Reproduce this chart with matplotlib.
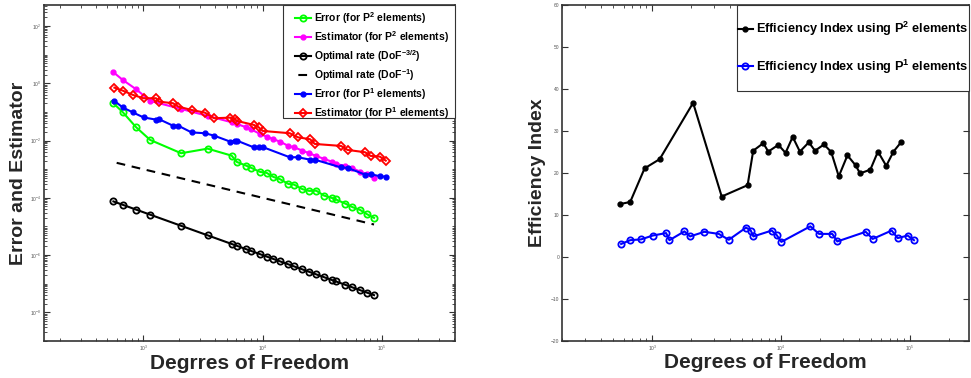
'''
 Error / estimator convergence and efficiency index for P1 and P2 elements
'''

import matplotlib
matplotlib.use('Agg')
import matplotlib.pyplot as plt
from matplotlib.patches import Rectangle
from matplotlib.ticker import (FixedLocator, LogLocator, LogFormatterSciNotation,
                               MultipleLocator, NullFormatter)

plt.rcParams['font.family'] = ['Liberation Sans', 'DejaVu Sans']
plt.rcParams['mathtext.fontset'] = 'custom'
plt.rcParams['mathtext.rm'] = 'Liberation Sans:bold'
plt.rcParams['mathtext.bf'] = 'Liberation Sans:bold'
plt.rcParams['mathtext.it'] = 'Liberation Sans:bold'

# degrees of freedom
dof_p2 = [564, 676, 874, 1145, 2080, 3466, 5503, 6083, 7278, 7966, 9526, 10839,
          12312, 13996, 16430, 18345, 21530, 24490, 28040, 32730, 37950, 40980,
          49300, 56440, 65470, 74520, 85700]
dof_p1 = [575, 675, 822, 1009, 1284, 1362, 1780, 1970, 2543, 3289, 3931, 5355,
          5822, 6100, 8470, 9260, 10054, 16870, 19710, 24980, 27320, 45350,
          51400, 72110, 80290, 95940, 107400]

# left plot
error_p2 = [0.2004, 0.0973, 0.0291, 0.0105, 0.0036, 0.00521, 0.00297, 0.00179,
            0.00133, 0.00113, 8.02e-4, 7.4e-4, 5.36e-4, 4.46e-4, 3.05e-4, 2.89e-4,
            2.01e-4, 1.74e-4, 1.78e-4, 1.19e-4, 9.92e-5, 8.8e-5, 6.27e-5, 4.74e-5,
            3.78e-5, 2.70e-5, 1.99e-5]
estimator_p2 = [2.42, 1.30, 0.617, 0.241, 0.127, 0.0722, 0.0435, 0.038, 0.0291,
                0.0248, 0.0170, 0.0137, 0.0111, 0.00916, 0.00648, 0.00584,
                0.00444, 0.0036, 0.0029, 0.00228, 0.00183, 0.00152, 0.0013,
                0.00108, 8.2e-4, 6.67e-4, 4.83e-4]
rate_32 = [7.47e-5, 5.69e-5, 3.87e-5, 2.58e-5, 1.054e-5, 4.90e-6, 2.45e-6, 2.11e-6,
           1.61e-6, 1.41e-6, 1.076e-6, 8.86e-7, 7.32e-7, 6.04e-7, 4.75e-7, 4.03e-7,
           3.17e-7, 2.61e-7, 2.13e-7, 1.69e-7, 1.35e-7, 1.21e-7, 9.14e-8, 7.46e-8,
           5.97e-8, 4.92e-8, 3.99e-8]
rate_1 = [1.77e-3, 1.48e-3, 1.14e-3, 8.73e-4, 4.81e-4, 2.89e-4, 1.82e-4, 1.64e-4,
          1.37e-4, 1.26e-4, 1.05e-4, 9.23e-5, 8.12e-5, 7.14e-5, 6.09e-5, 5.45e-5,
          4.64e-5, 4.08e-5, 3.57e-5, 3.06e-5, 2.64e-5, 2.44e-5, 2.03e-5, 1.77e-5,
          1.53e-5, 1.34e-5, 1.17e-5]
error_p1 = [0.241, 0.143, 0.0957, 0.064, 0.0537, 0.0554, 0.0329, 0.0329, 0.0192,
            0.0180, 0.0148, 0.00916, 0.00992, 0.00992, 0.00574, 0.00574, 0.00589,
            0.00261, 0.00261, 0.00215, 0.00215, 0.00115, 0.00111, 6.46e-4,
            6.67e-4, 5.67e-4, 5.45e-4]
estimator_p1 = [0.702, 0.552, 0.391, 0.2996, 0.2996, 0.228, 0.2004, 0.1525, 0.117,
                0.0942, 0.060, 0.063, 0.0567, 0.0483, 0.035, 0.0291, 0.0216,
                0.0180, 0.0130, 0.0111, 0.0076, 0.00648, 0.0047, 0.0039, 0.0029,
                0.00274, 0.00199]

# right plot
efficiency_p2 = [12.6, 13.1, 21.1, 23.3, 36.7, 14.4, 17.1, 25.3, 27.1, 25.1, 26.7,
                 24.8, 28.6, 25.1, 27.3, 25.3, 26.8, 25.0, 19.2, 24.2, 21.8, 19.9,
                 20.8, 25.1, 21.7, 25.1, 27.4]
efficiency_p1 = [3.1, 4.0, 4.2, 5.1, 5.7, 4.0, 6.1, 4.9, 6.0, 5.5, 4.1, 7.0, 6.3,
                 4.9, 6.3, 5.2, 3.6, 7.3, 5.5, 5.5, 3.7, 6.0, 4.3, 6.3, 4.5, 5.1, 4.0]

# tick positions
x_ticks = [1e3, 1e4, 1e5]
y_ticks_left = [1e-8, 1e-6, 1e-4, 1e-2, 1e0, 1e2]

TEXT = '#262626'


def style_axes(ax):
    '''
    matlab like box with ticks inside on all sides
    '''
    for spine in ax.spines.values():
        spine.set_color('#333333')
        spine.set_linewidth(1.2)
    ax.tick_params(which='both', direction='in', top=True, right=True,
                   labelsize=3.5, labelcolor='#555555', color='#333333', pad=2)
    ax.tick_params(which='major', length=4, width=0.8)
    ax.tick_params(which='minor', length=2.5, width=0.6)
    ax.set_xscale('log')
    ax.xaxis.set_major_locator(FixedLocator(x_ticks))
    ax.xaxis.set_major_formatter(LogFormatterSciNotation(base=10))
    ax.xaxis.set_minor_locator(LogLocator(base=10, subs=range(2, 10), numticks=20))
    ax.xaxis.set_minor_formatter(NullFormatter())


def boxed_legend(ax, box, center, size, spacing, handle_len):
    '''
    legend without its own frame, drawn inside a fixed box (axes fraction)
    '''
    ax.add_patch(Rectangle(box[:2], box[2], box[3], transform=ax.transAxes,
                           facecolor='white', edgecolor='#333333', lw=0.8,
                           zorder=4, clip_on=False))
    leg = ax.legend(loc='center', bbox_to_anchor=center, frameon=False,
                    prop={'weight': 'bold', 'size': size}, handlelength=handle_len,
                    handletextpad=0.25, labelspacing=spacing, borderpad=0,
                    borderaxespad=0)
    leg.set_zorder(5)


def plot_left(ax):
    ax.plot(dof_p2, error_p2, '-o', color=(0, 1, 0), lw=1.5, ms=4.5, mfc='none',
            mew=1.3, label=r'Error (for P$^{2}$ elements)')
    ax.plot(dof_p2, estimator_p2, '-o', color=(1, 0, 1), lw=1.5, ms=3.5,
            label=r'Estimator (for P$^{2}$ elements)')
    ax.plot(dof_p2, rate_32, '-o', color='k', lw=1.5, ms=4.5, mfc='none', mew=1.3,
            label=r'Optimal rate (DoF$^{-3/2}$)')
    ax.plot(dof_p2, rate_1, color='k', lw=1.5, ls=(5.8, (4.2, 3.2)),
            label=r'Optimal rate (DoF$^{-1}$)')
    ax.plot(dof_p1, error_p1, '-o', color=(0, 0, 1), lw=1.5, ms=3.5,
            label=r'Error (for P$^{1}$ elements)')
    ax.plot(dof_p1, estimator_p1, '-D', color=(1, 0, 0), lw=1.5, ms=4.2, mfc='none',
            mew=1.3, label=r'Estimator (for P$^{1}$ elements)')

    style_axes(ax)
    ax.set_yscale('log')
    ax.set_xlim(148, 4.08e5)
    ax.set_ylim(1.0e-9, 5.4e2)
    ax.yaxis.set_major_locator(FixedLocator(y_ticks_left))
    ax.yaxis.set_major_formatter(LogFormatterSciNotation(base=10))
    ax.yaxis.set_minor_locator(LogLocator(base=10, subs=range(1, 10), numticks=40))
    ax.yaxis.set_minor_formatter(NullFormatter())

    ax.set_xlabel('Degrres of Freedom', fontsize=15, fontweight='bold', color=TEXT)
    ax.set_ylabel('Error and Estimator', fontsize=14, fontweight='bold', color=TEXT)
    ax.xaxis.set_label_coords(0.5, -0.068)
    ax.xaxis.label.set_va('center')
    ax.yaxis.set_label_coords(-0.063, 0.5)
    ax.yaxis.label.set_va('center')

    boxed_legend(ax, (0.5815, 0.6637, 0.4185, 0.3363), (0.798, 0.820),
                 7.5, 0.31, 1.5)


def plot_right(ax):
    ax.plot(dof_p2, efficiency_p2, '-o', color='k', lw=1.5, ms=3.5,
            label=r'Efficiency Index using P$^{2}$ elements')
    ax.plot(dof_p1, efficiency_p1, '-o', color=(0, 0, 1), lw=1.5, ms=4.5,
            mfc='none', mew=1.3, label=r'Efficiency Index using P$^{1}$ elements')

    style_axes(ax)
    ax.set_xlim(200, 2.87e5)
    ax.set_ylim(-20, 60)
    ax.yaxis.set_major_locator(MultipleLocator(10))

    ax.set_xlabel('Degrees of Freedom', fontsize=15, fontweight='bold', color=TEXT)
    ax.set_ylabel('Efficiency Index', fontsize=14, fontweight='bold', color=TEXT)
    ax.xaxis.set_label_coords(0.5, -0.065)
    ax.xaxis.label.set_va('center')
    ax.yaxis.set_label_coords(-0.059, 0.5)
    ax.yaxis.label.set_va('center')

    boxed_legend(ax, (0.43, 0.744, 0.57, 0.256), (0.715, 0.872),
                 9.2, 1.5, 1.2)


def run():
    fig = plt.figure(figsize=(9.71, 3.78), dpi=100)
    ax_left = fig.add_axes([44 / 971, 37 / 378, 411 / 971, 336 / 378])
    ax_right = fig.add_axes([562 / 971, 37 / 378, 407 / 971, 336 / 378])
    plot_left(ax_left)
    plot_right(ax_right)
    fig.savefig('out.png', dpi=100)


run()
